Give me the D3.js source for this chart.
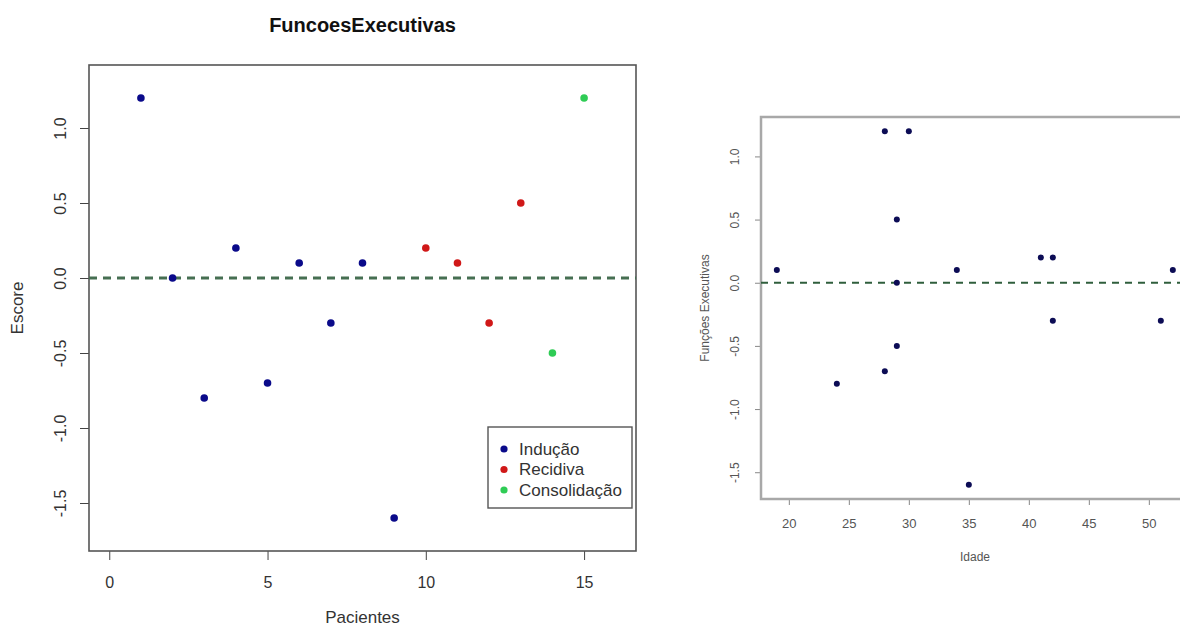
<!DOCTYPE html>
<html>
<head>
<meta charset="utf-8">
<script src="https://cdn.jsdelivr.net/npm/d3@7"></script>
<style>
  html, body { margin: 0; padding: 0; background: #fff; }
  svg { display: block; font-family: "Liberation Sans", Arial, sans-serif; }
</style>
</head>
<body>
<svg id="chart" width="1180" height="630"></svg>
<script>
// ---------- data ----------
const pacientes = [1, 2, 3, 4, 5, 6, 7, 8, 9, 10, 11, 12, 13, 14, 15];
const escore    = [1.2, 0.0, -0.8, 0.2, -0.7, 0.1, -0.3, 0.1, -1.6, 0.2, 0.1, -0.3, 0.5, -0.5, 1.2];
const fase      = ["Indução","Indução","Indução","Indução","Indução","Indução","Indução","Indução","Indução",
                   "Recidiva","Recidiva","Recidiva","Recidiva","Consolidação","Consolidação"];
const fases     = ["Indução", "Recidiva", "Consolidação"];
const faseCores = ["#0a0a8a", "#d01818", "#2fcc55"];

const idade   = [19, 28, 30, 29, 29, 29, 28, 24, 34, 41, 42, 42, 51, 52, 35];
const funcoes = [0.1, 1.2, 1.2, 0.5, 0.0, -0.5, -0.7, -0.8, 0.1, 0.2, 0.2, -0.3, -0.3, 0.1, -1.6];

const xTicksL = [0, 5, 10, 15];
const yTicksL = [-1.5, -1.0, -0.5, 0.0, 0.5, 1.0];
const xTicksR = [20, 25, 30, 35, 40, 45, 50];
const yTicksR = [-1.5, -1.0, -0.5, 0.0, 0.5, 1.0];

const svg = d3.select("#chart");
const fmt = d => d.toFixed(1).replace("−", "-");

// ---------- left panel ----------
const L = { left: 89, right: 636, top: 65, bottom: 551 };
const xL = d3.scaleLinear().domain([-0.64, 16.64]).range([L.left, L.right]);
const yL = d3.scaleLinear().domain([-1.82, 1.42]).range([L.bottom, L.top]);
const color = d3.scaleOrdinal().domain(fases).range(faseCores);

svg.append("text").attr("x", (L.left + L.right) / 2).attr("y", 32)
  .attr("text-anchor", "middle").attr("font-size", 20).attr("font-weight", "bold")
  .attr("fill", "#111").text("FuncoesExecutivas");

const gxL = svg.append("g").attr("transform", `translate(0,${L.bottom})`)
  .call(d3.axisBottom(xL).tickValues(xTicksL).tickSize(9).tickFormat(d3.format("d")));
gxL.select(".domain").remove();
gxL.selectAll("line").attr("stroke", "#444");
gxL.selectAll("text").attr("y", 31).attr("dy", "0.35em").attr("font-size", 16)
  .attr("fill", "#333").attr("font-family", "Liberation Sans, Arial, sans-serif");

const gyL = svg.append("g").attr("transform", `translate(${L.left},0)`)
  .call(d3.axisLeft(yL).tickValues(yTicksL).tickSize(9).tickFormat(fmt));
gyL.select(".domain").remove();
gyL.selectAll("line").attr("stroke", "#444");
gyL.selectAll("text").attr("x", null).attr("dy", "0.35em")
  .attr("transform", "translate(-29,0) rotate(-90)").attr("text-anchor", "middle")
  .attr("font-size", 16).attr("fill", "#333").attr("font-family", "Liberation Sans, Arial, sans-serif");

svg.append("rect").attr("x", L.left).attr("y", L.top)
  .attr("width", L.right - L.left).attr("height", L.bottom - L.top)
  .attr("fill", "none").attr("stroke", "#555").attr("stroke-width", 1.6);

svg.append("line").attr("x1", L.left).attr("x2", L.right)
  .attr("y1", yL(0)).attr("y2", yL(0))
  .attr("stroke", "#466f52").attr("stroke-width", 3).attr("stroke-dasharray", "8,6");

svg.append("g").selectAll("circle").data(pacientes).join("circle")
  .attr("cx", (d) => xL(d)).attr("cy", (d, i) => yL(escore[i]))
  .attr("r", 3.8).attr("fill", (d, i) => color(fase[i]));

svg.append("text").attr("x", (L.left + L.right) / 2).attr("y", 623)
  .attr("text-anchor", "middle").attr("font-size", 17).attr("fill", "#333").text("Pacientes");
svg.append("text").attr("transform", `translate(23,${(L.top + L.bottom) / 2}) rotate(-90)`)
  .attr("text-anchor", "middle").attr("font-size", 17).attr("fill", "#333").text("Escore");

// legend
const leg = svg.append("g");
leg.append("rect").attr("x", 488).attr("y", 427).attr("width", 144).attr("height", 81)
  .attr("fill", "#fff").attr("stroke", "#555").attr("stroke-width", 1.4);
const legY = d3.scalePoint().domain(fases).range([449, 490]);
leg.selectAll("circle").data(fases).join("circle")
  .attr("cx", 504).attr("cy", d => legY(d)).attr("r", 3.6).attr("fill", d => color(d));
leg.selectAll("text").data(fases).join("text")
  .attr("x", 519).attr("y", d => legY(d)).attr("dy", "0.35em")
  .attr("font-size", 17).attr("fill", "#333").text(d => d);

// ---------- right panel ----------
const R = { left: 761, top: 117, bottom: 499 };
const xR = d3.scaleLinear().domain([17.68, 53.32]).range([R.left, R.left + 35.64 * 12]);
const yR = d3.scaleLinear().domain([-1.712, 1.312]).range([R.bottom, R.top]);

const gxR = svg.append("g").attr("transform", `translate(0,${R.bottom})`)
  .call(d3.axisBottom(xR).tickValues(xTicksR).tickSize(6).tickFormat(d3.format("d")));
gxR.select(".domain").remove();
gxR.selectAll("line").attr("stroke", "#888");
gxR.selectAll("text").attr("y", 24).attr("dy", "0.35em").attr("font-size", 13)
  .attr("fill", "#555").attr("font-family", "Liberation Sans, Arial, sans-serif");

const gyR = svg.append("g").attr("transform", `translate(${R.left},0)`)
  .call(d3.axisLeft(yR).tickValues(yTicksR).tickSize(6).tickFormat(fmt));
gyR.select(".domain").remove();
gyR.selectAll("line").attr("stroke", "#888");
gyR.selectAll("text").attr("x", null).attr("dy", "0.35em")
  .attr("transform", "translate(-26,0) rotate(-90)").attr("text-anchor", "middle")
  .attr("font-size", 12).attr("fill", "#555").attr("font-family", "Liberation Sans, Arial, sans-serif");

svg.append("rect").attr("x", R.left).attr("y", R.top)
  .attr("width", xR.range()[1] - R.left).attr("height", R.bottom - R.top)
  .attr("fill", "none").attr("stroke", "#a8a8a8").attr("stroke-width", 2.5);

svg.append("line").attr("x1", R.left).attr("x2", xR.range()[1])
  .attr("y1", yR(0)).attr("y2", yR(0))
  .attr("stroke", "#2f5e3c").attr("stroke-width", 2).attr("stroke-dasharray", "7,6");

svg.append("g").selectAll("circle").data(idade).join("circle")
  .attr("cx", d => xR(d)).attr("cy", (d, i) => yR(funcoes[i]))
  .attr("r", 3).attr("fill", "#0c0c55");

svg.append("text").attr("x", 975).attr("y", 561)
  .attr("text-anchor", "middle").attr("font-size", 12).attr("fill", "#555").text("Idade");
svg.append("text").attr("transform", `translate(709,${(R.top + R.bottom) / 2}) rotate(-90)`)
  .attr("text-anchor", "middle").attr("font-size", 12).attr("fill", "#555").text("Funções Executivas");
</script>
</body>
</html>
